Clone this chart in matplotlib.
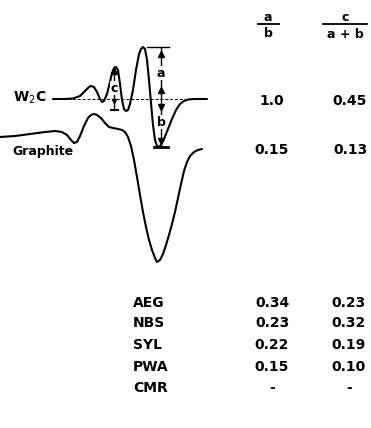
import matplotlib
matplotlib.use("Agg")
import matplotlib.pyplot as plt

# curve points (pixel coords, y grows downward)
w2c_x = [53, 65, 73, 80, 85, 89, 91, 94, 97, 100, 102, 104, 107, 110, 112, 114, 116,
         118, 120, 122, 124, 126, 128, 130, 133, 136, 139, 141, 143, 145, 147, 149,
         151, 153, 155, 157, 159, 161, 164, 168, 172, 176, 180, 184, 188, 195, 207]
w2c_y = [99, 99, 98.5, 96, 91, 87, 86, 87, 92, 99, 102, 101, 94, 82, 73, 68, 67,
         70, 84, 100, 109, 111, 110, 104, 90, 70, 54, 49, 47, 49, 60, 80,
         103, 125, 140, 146, 147, 145, 139, 129, 119, 110, 104, 101, 99.5, 99, 99]

graph_x = [0, 15, 30, 45, 55, 62, 67, 71, 74, 77, 80, 84, 88, 91, 94, 97, 101, 105,
           109, 113, 118, 122, 125, 128, 131, 134, 137, 140, 143, 146, 149, 152, 155,
           157, 160, 163, 166, 169, 172, 175, 178, 181, 184, 187, 190, 194, 198, 202]
graph_y = [137, 136, 134, 132, 131, 132, 135, 140, 143, 142, 136, 126, 118, 115, 114,
           115, 118, 123, 127, 128, 129, 130, 132, 137, 146, 160, 177, 195, 212, 227,
           240, 250, 258, 262, 260, 254, 245, 235, 224, 212, 198, 184, 171, 162, 156,
           152, 150, 149]

baseline_y = 99

# table
samples = ["AEG", "NBS", "SYL", "PWA", "CMR"]
ratio_ab = ["0.34", "0.23", "0.22", "0.15", "-"]
ratio_c = ["0.23", "0.32", "0.19", "0.10", "-"]
ref_names = ["W$_2$C", "Graphite"]
ref_ab = ["1.0", "0.15"]
ref_c = ["0.45", "0.13"]

fig = plt.figure(figsize=(3.71, 4.28), dpi=100)
ax = fig.add_axes([0, 0, 1, 1])
ax.set_xlim(0, 371)
ax.set_ylim(428, 0)
ax.axis("off")

ax.plot(w2c_x, w2c_y, color="black", lw=1.5, solid_capstyle="round")
ax.plot(graph_x, graph_y, color="black", lw=1.5, solid_capstyle="round")
ax.plot([53, 207], [baseline_y, baseline_y], color="black", lw=0.7, ls=(0, (3, 2)))

fs = dict(fontsize=10, fontweight="bold", family="DejaVu Sans", color="black")
lab = dict(fontsize=9, fontweight="bold", ha="center", va="center",
           bbox=dict(fc="white", ec="none", pad=0.3))

# a / b marker
ax.plot([161, 161], [47, 147], color="black", lw=1.0)
ax.plot([147, 169], [47, 47], color="black", lw=1.0)
ax.plot([154, 168], [147, 147], color="black", lw=2.0)
ax.plot([161], [54], marker="^", ms=4, color="black")
ax.plot([161], [90], marker="^", ms=4, color="black")
ax.plot([161], [107], marker="v", ms=4, color="black")
ax.plot([161], [141], marker="v", ms=4, color="black")
ax.text(161, 73, "a", **lab)
ax.text(161, 122, "b", **lab)

# c marker
ax.plot([114, 114], [67, 110], color="black", lw=1.0)
ax.plot([111, 118], [110, 110], color="black", lw=1.4)
ax.plot([114], [71], marker="^", ms=5, color="black")
ax.plot([114], [101], marker="v", ms=3, color="black")
ax.text(114, 88, "c", **lab)

# curve labels
ax.text(13, 98, ref_names[0], ha="left", va="center", **fs)
ax.text(12, 152, ref_names[1], ha="left", va="center", fontsize=9,
        fontweight="bold")

# header fractions
col1, col2 = 268, 345
hs = dict(fontsize=9, fontweight="bold", ha="center", va="center")
ax.text(col1, 17, "a", **hs)
ax.plot([258, 279], [24, 24], color="black", lw=1.3)
ax.text(col1, 33, "b", **hs)
ax.text(col2, 17, "c", **hs)
ax.plot([323, 367], [24, 24], color="black", lw=1.3)
ax.text(col2, 34, "a + b", **hs)

ref_rows = [101, 150]
for yy, v1, v2 in zip(ref_rows, ref_ab, ref_c):
    ax.text(272, yy, v1, ha="center", va="center", **fs)
    ax.text(350, yy, v2, ha="center", va="center", **fs)

rows = [303, 323, 345, 367, 388]
for yy, name, v1, v2 in zip(rows, samples, ratio_ab, ratio_c):
    ax.text(133, yy, name, ha="left", va="center", **fs)
    ax.text(272, yy, v1, ha="center", va="center", **fs)
    ax.text(349, yy, v2, ha="center", va="center", **fs)

fig.savefig("out.png", dpi=100)
